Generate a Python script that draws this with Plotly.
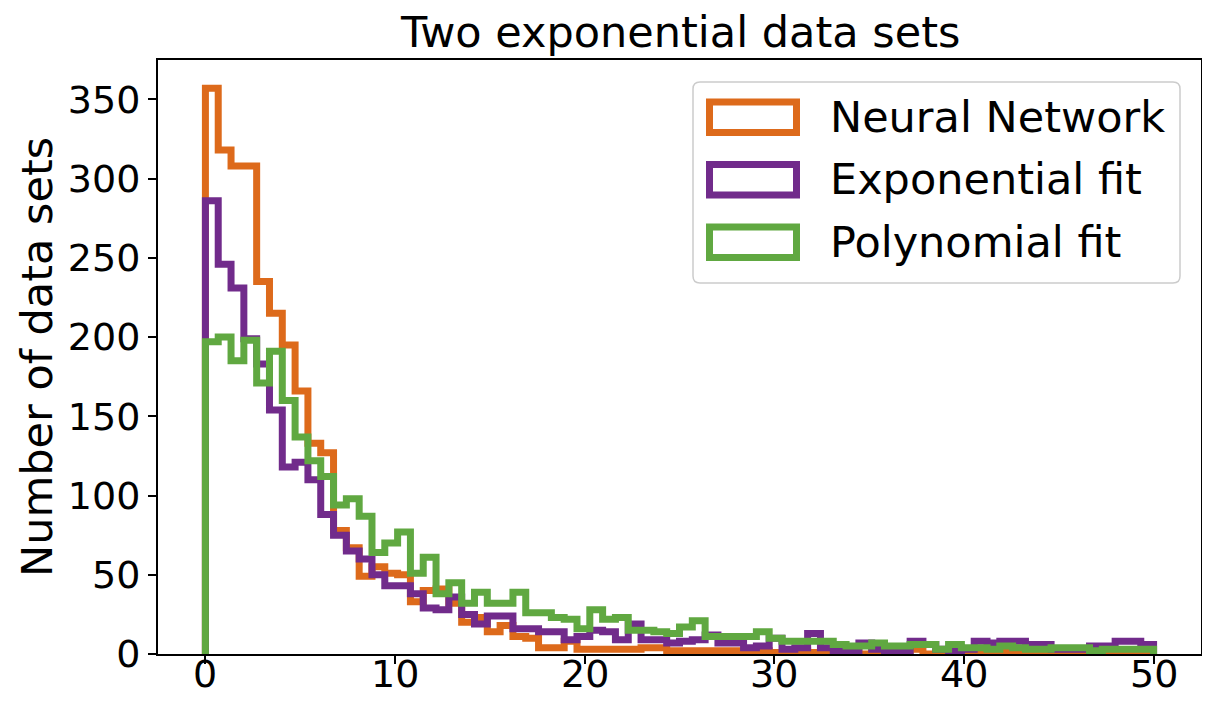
import numpy as np
import plotly.graph_objects as go

# ---- data (counts per bin, 74 equal bins between 0 and 50) ----
X_MIN, X_MAX, N_BINS = 0.0, 50.0, 74

neural_network = [357, 318, 308, 308, 235, 215, 195, 166, 133, 127,
                  78, 67, 49, 55, 51, 50, 33, 40, 41, 32,
                  20, 23, 14, 18, 11, 10, 4, 4, 8, 3,
                  3, 3, 3, 3, 4, 4, 2, 2, 2, 2,
                  2, 2, 1, 2, 1, 1, 2, 1, 1, 2,
                  1, 0, 1, 0, 1, 3, 0, 1, 3, 0,
                  0, 0, 1, 0, 0, 0, 0, 1, 0, 0,
                  0, 0, 0, 0]

exponential_fit = [286, 246, 231, 199, 183, 154, 118, 121, 110, 88,
                   75, 65, 60, 50, 43, 43, 38, 29, 28, 36,
                   25, 19, 24, 24, 16, 16, 14, 14, 9, 11,
                   15, 14, 9, 19, 9, 9, 7, 8, 9, 12,
                   7, 7, 4, 5, 10, 3, 4, 13, 4, 2,
                   2, 7, 3, 2, 1, 8, 6, 3, 2, 3,
                   8, 7, 8, 8, 6, 6, 3, 3, 3, 5,
                   5, 8, 8, 6]

polynomial_fit = [197, 200, 185, 198, 171, 191, 160, 137, 122, 112,
                  94, 98, 87, 64, 70, 77, 51, 61, 38, 45,
                  32, 39, 32, 32, 39, 26, 26, 23, 22, 16,
                  28, 22, 23, 15, 15, 14, 13, 17, 21, 11,
                  11, 11, 11, 14, 10, 8, 8, 8, 8, 6,
                  5, 5, 7, 5, 5, 6, 6, 3, 6, 4,
                  4, 3, 5, 4, 3, 3, 4, 4, 4, 2,
                  3, 3, 3, 3]

series_names = ["Neural Network", "Exponential fit", "Polynomial fit"]
series_values = [neural_network, exponential_fit, polynomial_fit]
series_colors = ["#DD6A1B", "#712B8B", "#60A841"]

x_ticks = [0, 10, 20, 30, 40, 50]
x_tick_labels = ["0", "10", "20", "30", "40", "50"]
y_ticks = [0, 50, 100, 150, 200, 250, 300, 350]

TITLE = "Two exponential data sets"
Y_LABEL = "Number of data sets"

# ---- figure ----
edges = np.linspace(X_MIN, X_MAX, N_BINS + 1)
FONT = "DejaVu Sans"
FS = 43        # title, legend, axis label
FS_TICK = 38   # tick labels
LW = 7

fig = go.Figure()
for name, vals, col in zip(series_names, series_values, series_colors):
    xs = [edges[0]] + list(edges)
    ys = [0] + list(vals) + [0]
    fig.add_trace(go.Scatter(x=xs, y=ys, mode="lines", name=name,
                             line=dict(color=col, width=LW, shape="hv"),
                             showlegend=False, hoverinfo="skip"))

# page body has an 8px margin; figure fills the remaining viewport
OFF = 8
W, H = 1194, 690
L, R, T, B = 150, 1, 52, 44
pw, ph = W - L - R, H - T - B


def px(xw):
    return (xw - OFF - L) / pw


def py(yw):
    return 1 - (yw - OFF - T) / ph


ymax = max(max(v) for v in series_values) * 1.05
span = X_MAX - X_MIN

# legend (drawn manually to mimic matplotlib patch handles)
shapes = []
bx0, bx1, by0, by1 = px(693), px(1180), py(82), py(283)
rx, ry = 7 / pw, 7 / ph
path = (f"M {bx0+rx},{by0} L {bx1-rx},{by0} Q {bx1},{by0} {bx1},{by0-ry} "
        f"L {bx1},{by1+ry} Q {bx1},{by1} {bx1-rx},{by1} L {bx0+rx},{by1} "
        f"Q {bx0},{by1} {bx0},{by1+ry} L {bx0},{by0-ry} Q {bx0},{by0} {bx0+rx},{by0} Z")
shapes.append(dict(type="path", xref="paper", yref="paper", path=path,
                   fillcolor="rgba(255,255,255,0.85)",
                   line=dict(color="#CCCCCC", width=1.5), layer="above"))
annotations = []
row_tops = [102, 164.5, 227]
for name, col, top in zip(series_names, series_colors, row_tops):
    shapes.append(dict(type="rect", xref="paper", yref="paper",
                       x0=px(709.5), x1=px(796.5), y0=py(top), y1=py(top + 30.5),
                       line=dict(color=col, width=LW), fillcolor="white",
                       layer="above"))
    annotations.append(dict(text=name, xref="paper", yref="paper",
                            x=px(828), y=py(top + 15), xanchor="left",
                            yanchor="middle", showarrow=False,
                            font=dict(family=FONT, size=FS, color="black")))

annotations.append(dict(text=Y_LABEL, xref="paper", yref="paper",
                        x=px(37), y=py(357), textangle=-90, xanchor="center",
                        yanchor="middle", showarrow=False,
                        font=dict(family=FONT, size=FS, color="black")))

annotations.append(dict(text=TITLE, xref="paper", yref="paper",
                        x=px(680), y=py(32), xanchor="center",
                        yanchor="middle", showarrow=False,
                        font=dict(family=FONT, size=FS, color="black")))

# x tick labels placed just under the tick marks
for tv, tl in zip(x_ticks, x_tick_labels):
    annotations.append(dict(text=tl, xref="x", yref="paper", x=tv,
                            y=py(674), xanchor="center", yanchor="middle",
                            showarrow=False, borderpad=0,
                            font=dict(family=FONT, size=FS_TICK, color="black")))

fig.update_layout(
    width=W, height=H,
    margin=dict(l=L, r=R, t=T, b=B, autoexpand=False),
    paper_bgcolor="white", plot_bgcolor="white",
    shapes=shapes, annotations=annotations, showlegend=False,
)
fig.update_xaxes(range=[X_MIN - 0.05 * span, X_MAX + 0.05 * span],
                 tickvals=x_ticks, ticks="outside", ticklen=8, tickwidth=2,
                 tickcolor="black", showline=True, linewidth=2,
                 linecolor="black", mirror=True, showgrid=False, zeroline=False,
                 automargin=False, showticklabels=False)
fig.update_yaxes(range=[0, ymax], tickvals=y_ticks, ticks="outside",
                 ticklen=8, tickwidth=2, tickcolor="black", showline=True,
                 linewidth=2, linecolor="black", mirror=True, showgrid=False,
                 zeroline=False, automargin=False,
                 tickfont=dict(family=FONT, size=FS_TICK, color="black"))

fig.write_html("out.html")
